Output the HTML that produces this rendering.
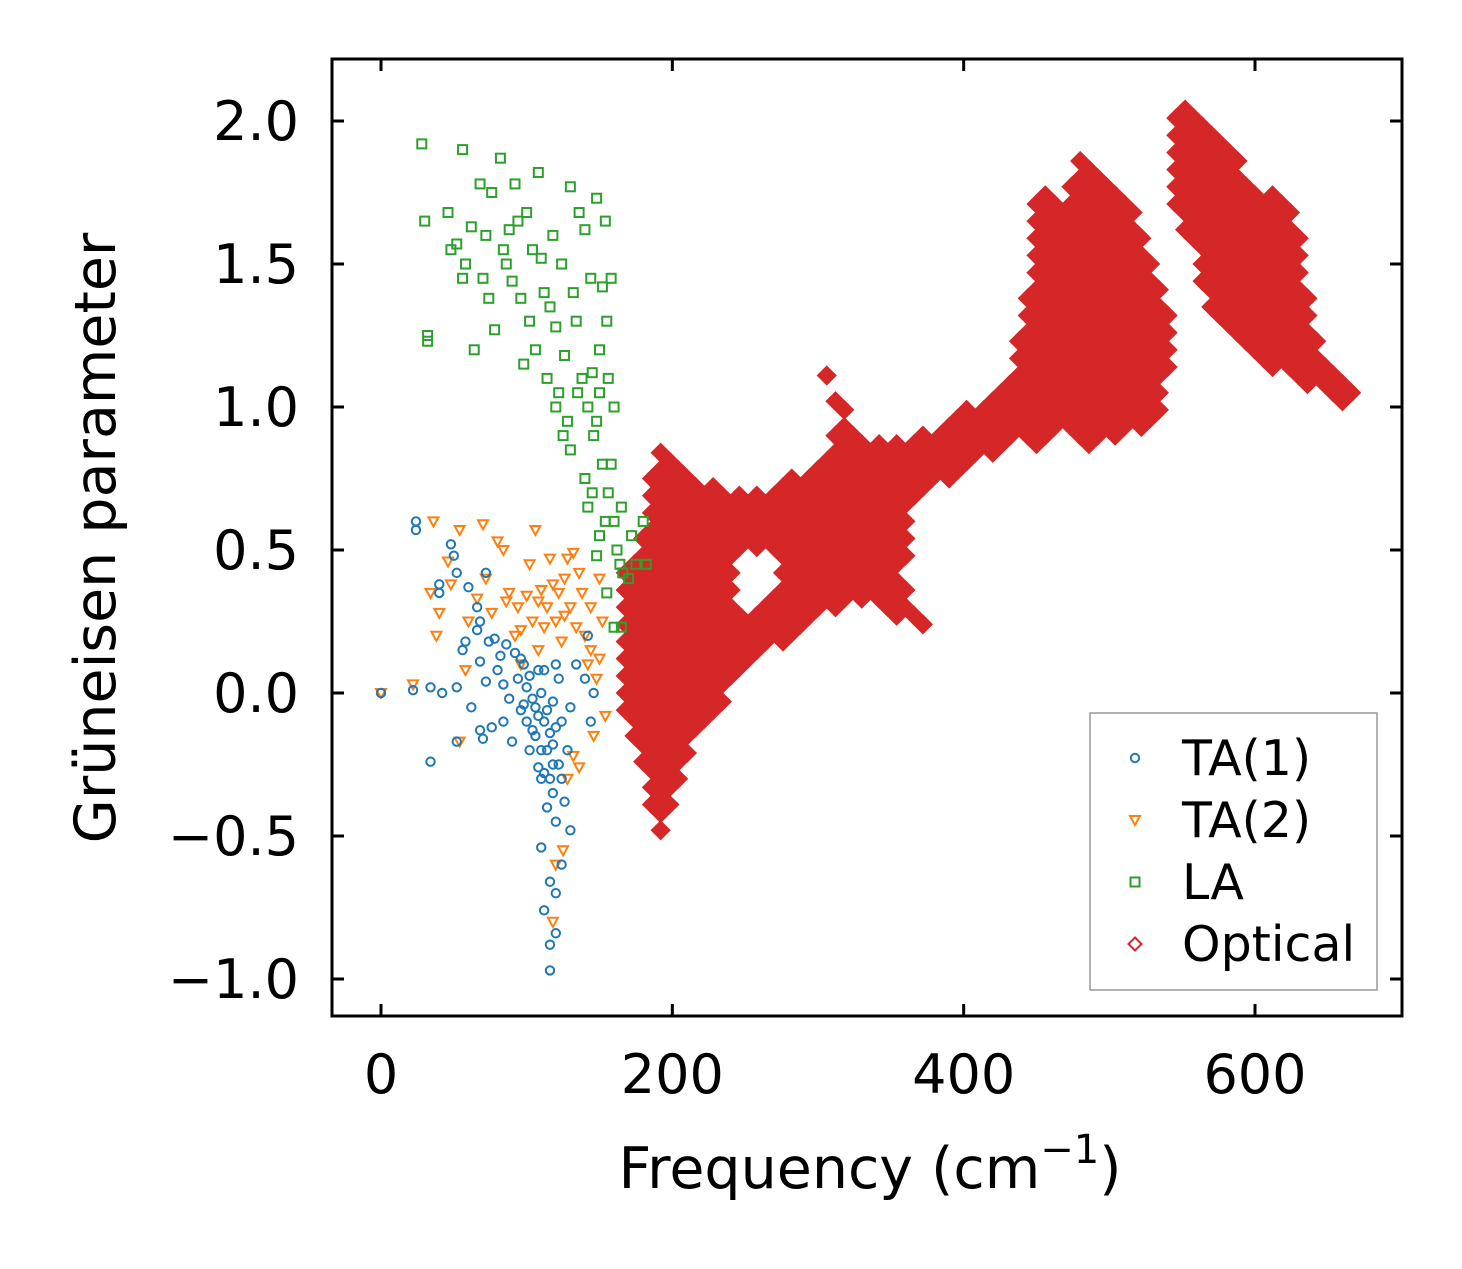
<!DOCTYPE html>
<html><head><meta charset="utf-8"><style>
html,body{margin:0;padding:0;background:#fff;}
svg text{font-family:"DejaVu Sans","Liberation Sans",sans-serif;fill:#000;}
</style></head><body>
<svg id="chart" width="1462" height="1264" viewBox="0 0 1462 1264" xmlns="http://www.w3.org/2000/svg">
<g id="marks"></g>
<rect x="332" y="59" width="1070" height="957" fill="none" stroke="#000" stroke-width="3"/>
<g id="axes"></g>
<text x="870" y="1188" font-size="57" text-anchor="middle">Frequency (cm<tspan font-size="40" dy="-25">−1</tspan><tspan dy="25">)</tspan></text>
<text transform="translate(115,538) rotate(-90)" font-size="57" text-anchor="middle">Grüneisen parameter</text>
<g>
<rect x="1090" y="713" width="287" height="277" fill="#fff" stroke="#999" stroke-width="1.5"/>
<g id="legend-entries"></g>
</g>
</svg>
<script>
const xTicks=[0,200,400,600];
const yTicks=[-1.0,-0.5,0.0,0.5,1.0,1.5,2.0];
const yTickLabels=["−1.0","−0.5","0.0","0.5","1.0","1.5","2.0"];
const ta1Data=[[0,0],[22,0.01],[24,0.6],[24,0.57],[34,0.02],[34,-0.24],[40,0.38],[40,0.35],[42,0],[48,0.52],[50,0.48],[52,0.42],[52,0.02],[52,-0.17],[56,0.15],[58,0.18],[60,0.37],[62,-0.05],[66,0.3],[66,0.22],[68,0.25],[68,0.11],[68,-0.13],[70,-0.16],[72,0.42],[72,0.04],[74,0.18],[76,-0.12],[78,0.19],[80,0.08],[82,0.13],[84,0.03],[84,-0.1],[86,0.17],[88,-0.02],[90,-0.17],[92,0.14],[94,0.05],[96,-0.06],[98,0.1],[100,-0.1],[100,0.02],[102,-0.2],[104,-0.13],[106,-0.05],[108,-0.26],[108,0.08],[110,-0.3],[110,-0.54],[112,-0.1],[112,-0.76],[114,-0.2],[114,-0.4],[116,-0.97],[116,-0.88],[116,-0.66],[118,-0.35],[118,-0.18],[118,-0.03],[120,-0.45],[120,-0.84],[120,-0.7],[122,-0.25],[122,0.05],[124,-0.6],[124,-0.1],[126,-0.38],[128,-0.2],[130,-0.48],[130,-0.05],[134,0.1],[140,0.05],[142,0.2],[144,-0.1],[146,0.0],[104,-0.02],[106,-0.15],[108,-0.08],[110,-0.2],[112,-0.28],[114,-0.06],[116,-0.14],[116,-0.3],[118,-0.25],[120,-0.12],[110,0.0],[102,0.06],[98,-0.04],[96,0.12],[112,0.08],[120,0.1],[124,-0.3]];
const ta2Data=[[0,0],[22,0.03],[34,0.35],[36,0.6],[38,0.2],[40,0.28],[46,0.46],[48,0.38],[54,-0.17],[54,0.57],[58,0.08],[60,0.25],[66,0.33],[70,0.59],[72,0.4],[76,0.28],[80,0.53],[84,0.5],[86,0.32],[88,0.35],[92,0.2],[94,0.3],[96,0.22],[100,0.34],[102,0.45],[104,0.25],[106,0.57],[108,0.32],[112,0.23],[114,0.3],[116,0.47],[118,0.38],[120,0.25],[122,0.35],[124,0.18],[126,0.4],[128,0.47],[130,0.3],[132,-0.22],[134,0.23],[136,-0.26],[138,0.35],[140,0.2],[142,0.1],[144,0.3],[146,-0.15],[148,0.05],[150,0.12],[152,0.25],[154,-0.08],[120,-0.6],[125,-0.55],[118,-0.8],[128,-0.3],[132,0.49],[108,0.15],[96,0.1],[110,0.36],[126,0.27],[136,0.42],[144,0.15],[150,0.4]];
const laData=[[28,1.92],[30,1.65],[32,1.25],[32,1.23],[46,1.68],[48,1.55],[52,1.57],[56,1.45],[56,1.9],[58,1.5],[62,1.63],[64,1.2],[68,1.78],[70,1.45],[72,1.6],[74,1.38],[76,1.75],[78,1.27],[82,1.87],[84,1.55],[86,1.5],[88,1.62],[90,1.44],[92,1.78],[94,1.65],[96,1.38],[98,1.15],[100,1.68],[102,1.3],[104,1.55],[106,1.2],[108,1.82],[110,1.52],[112,1.4],[114,1.1],[116,1.35],[118,1.6],[120,1.28],[122,1.05],[124,1.5],[126,1.18],[128,0.95],[130,1.77],[132,1.4],[134,1.3],[136,1.68],[138,1.1],[140,1.62],[142,1.0],[144,1.45],[146,0.9],[148,1.73],[150,1.2],[152,0.8],[154,1.65],[156,0.7],[158,1.45],[160,0.6],[162,0.5],[164,0.45],[166,0.42],[170,0.4],[175,0.45],[180,0.6],[182,0.45],[160,0.23],[165,0.23],[145,0.7],[140,0.75],[150,0.55],[155,0.35],[120,1.0],[125,0.9],[135,1.05],[145,1.12],[155,1.3],[160,1.0],[130,0.85],[148,0.95],[158,0.8],[165,0.65],[172,0.55],[142,0.65],[150,1.05],[154,0.6],[148,0.48],[156,1.1],[152,1.42]];
// optical: [frequency, gamma values in hundredths]
const opticalCols=[
[168,[-6,0,6,12,18,24,30,36,42]],
[174,[-15,-9,-3,3,9,15,21,27,33,39,45]],
[180,[-24,-18,-12,-6,0,6,12,18,24,30,36,42,48,54]],
[186,[-39,-33,-27,-21,-15,-9,-3,3,9,15,21,27,33,39,45,51,57,63,69,75]],
[192,[-48,-42,-36,-30,-24,-18,-12,-6,0,6,12,18,24,30,36,42,48,54,60,66,72,78,84]],
[198,[-39,-33,-27,-21,-15,-9,-3,3,9,15,21,27,33,39,45,51,57,63,69,75,81]],
[204,[-30,-24,-18,-12,-6,0,6,12,18,24,30,36,42,48,54,60,66,72,78]],
[210,[-21,-15,-9,-3,3,9,15,21,27,33,39,45,51,57,63,69,75]],
[216,[-12,-6,0,6,12,18,24,30,36,42,48,54,60,66,72]],
[222,[-9,-3,3,9,15,21,27,33,39,45,51,57,63,69]],
[228,[-6,0,6,12,18,24,30,36,42,48,54,60,66,72]],
[234,[-3,3,9,15,21,27,33,39,45,51,57,63,69]],
[240,[6,12,18,24,30,36,42,48,54,60,66]],
[246,[9,15,21,27,51,57,63,69]],
[252,[12,18,24,54,60,66]],
[258,[15,21,27,51,57,63,69]],
[264,[18,24,30,54,60,66]],
[270,[21,27,33,51,57,63,69]],
[276,[18,24,30,36,42,48,54,60,66,72]],
[282,[21,27,33,39,45,51,57,63,69,75]],
[288,[24,30,36,42,48,54,60,66,72]],
[294,[27,33,39,45,51,57,63,69,75]],
[300,[30,36,42,48,54,60,66,72,78]],
[306,[33,39,45,51,57,63,69,75,81,111]],
[312,[30,36,42,48,54,60,66,72,78,84,90,102]],
[318,[33,39,45,51,57,63,69,75,81,87,93,99]],
[324,[36,42,48,54,60,66,72,78,84,90]],
[330,[33,39,45,51,57,63,69,75,81,87]],
[336,[36,42,48,54,60,66,72,78,84]],
[342,[33,39,45,51,57,63,69,75,81,87]],
[348,[30,36,42,48,54,60,66,72,78,84]],
[354,[27,33,39,45,51,57,63,69,75,81,87]],
[360,[30,36,48,54,60,66,72,78,84]],
[366,[27,69,75,81,87]],
[372,[24,72,78,84,90]],
[378,[75,81,87]],
[384,[78,84,90]],
[390,[75,81,87,93]],
[396,[78,84,90,96]],
[402,[81,87,93,99]],
[408,[84,90,96]],
[414,[87,93,99]],
[420,[84,90,96,102]],
[426,[87,93,99,105]],
[432,[90,96,102,108]],
[438,[93,99,105,111,117,123]],
[444,[90,96,102,108,114,120,126,132,138]],
[450,[87,93,99,105,111,117,123,129,135,141,147,153,159,165,171]],
[456,[90,96,102,108,114,120,126,132,138,144,150,156,162,168,174]],
[462,[93,99,105,111,117,123,129,135,141,147,153,159,165,171]],
[468,[96,102,108,114,120,126,132,138,144,150,156,162,168]],
[474,[93,99,105,111,117,123,129,135,141,147,153,159,165,171,177]],
[480,[90,96,102,108,114,120,126,132,138,144,150,156,162,168,174,180,186]],
[486,[87,93,99,105,111,117,123,129,135,141,147,153,159,165,171,177,183]],
[492,[90,96,102,108,114,120,126,132,138,144,150,156,162,168,174,180]],
[498,[93,99,105,111,117,123,129,135,141,147,153,159,165,171,177]],
[504,[90,96,102,108,114,120,126,132,138,144,150,156,162,168,174]],
[510,[93,99,105,111,117,123,129,135,141,147,153,159,165,171]],
[516,[96,102,108,114,120,126,132,138,144,150,156,162,168]],
[522,[93,99,105,111,117,123,129,135,141,147,153,159]],
[528,[96,102,108,114,120,126,132,138,144,150]],
[534,[99,105,111,117,123,129,135,141]],
[540,[114,120,126,132]],
[546,[171,177,183,189,195,201]],
[552,[162,168,174,180,186,192,198,204]],
[558,[159,165,171,177,183,189,195,201]],
[564,[144,150,156,162,168,174,180,186,192,198]],
[570,[135,141,147,153,159,165,171,177,183,189,195]],
[576,[132,138,144,150,156,162,168,174,180,186,192]],
[582,[129,135,141,147,153,159,165,171,177,183,189]],
[588,[126,132,138,144,150,156,162,168,174,180,186]],
[594,[123,129,135,141,147,153,159,165,171,177]],
[600,[120,126,132,138,144,150,156,162,168,174]],
[606,[117,123,129,135,141,147,153,159,165,171]],
[612,[114,120,126,132,138,144,150,156,162,168,174]],
[618,[117,123,129,135,141,147,153,159,165,171]],
[624,[114,120,126,132,138,144,150,156,162,168]],
[630,[111,117,123,129,135,141,147,153,159]],
[636,[108,114,120,126,132,138]],
[642,[111,117,123]],
[648,[108,114]],
[654,[105,111]],
[660,[102,108]],
[666,[105]]
];
const legendLabels=["TA(1)","TA(2)","LA","Optical"];
const colors=["#1f77b4","#ff7f0e","#2ca02c","#d62728"];

const NS="http://www.w3.org/2000/svg";
function xs(v){return 381+v*(1255-381)/600;}
function ys(v){return 693-v*286;}
function mk(tag,attrs){const e=document.createElementNS(NS,tag);for(const k in attrs)e.setAttribute(k,attrs[k]);return e;}
function marker(type,cx,cy,color,big){
  let e;
  if(type===0){e=mk('circle',{cx:cx,cy:cy,r:4.2});}
  else if(type===1){e=mk('polygon',{points:`${cx-5},${cy-4} ${cx+5},${cy-4} ${cx},${cy+5}`});}
  else if(type===2){e=mk('rect',{x:cx-4.5,y:cy-4.5,width:9,height:9});}
  else {const s=big?8:6.5;e=mk('polygon',{points:`${cx},${cy-s} ${cx+s},${cy} ${cx},${cy+s} ${cx-s},${cy}`});}
  e.setAttribute('fill',big?color:'none');e.setAttribute('stroke',color);e.setAttribute('stroke-width',big?'3':'2');
  return e;
}
const marks=document.getElementById('marks');
const opticalData=[];
opticalCols.forEach(c=>c[1].forEach(g=>opticalData.push([c[0],g/100])));
const series=[opticalData,laData,ta2Data,ta1Data];
const seriesType=[3,2,1,0];
const seriesNames=['optical-point','la-point','ta2-point','ta1-point'];
series.forEach((arr,si)=>{
  const t=seriesType[si];
  arr.forEach(p=>{
    const m=marker(t,xs(p[0]),ys(p[1]),colors[t],t===3);
    
    
    marks.appendChild(m);
  });
});
const axes=document.getElementById('axes');
xTicks.forEach(v=>{
  const x=xs(v);
  const t1=mk('line',{x1:x,x2:x,y1:1016,y2:1004,stroke:'#000','stroke-width':3});
  
  
  axes.appendChild(t1);
  const t2=mk('line',{x1:x,x2:x,y1:59,y2:71,stroke:'#000','stroke-width':3});
  
  
  axes.appendChild(t2);
  const l=mk('text',{x:x,y:1093,'font-size':54,'text-anchor':'middle'});
  l.textContent=String(v);
  
  
  axes.appendChild(l);
});
yTicks.forEach((v,i)=>{
  const y=ys(v);
  const t1=mk('line',{x1:332,x2:344,y1:y,y2:y,stroke:'#000','stroke-width':3});
  
  
  axes.appendChild(t1);
  const t2=mk('line',{x1:1390,x2:1402,y1:y,y2:y,stroke:'#000','stroke-width':3});
  
  
  axes.appendChild(t2);
  const l=mk('text',{x:299,y:y+19,'font-size':54,'text-anchor':'end'});
  l.textContent=yTickLabels[i];
  
  
  axes.appendChild(l);
});
const le=document.getElementById('legend-entries');
legendLabels.forEach((lab,i)=>{
  const y=758+i*62;
  const m=marker(i,1135,y,colors[i],false);
  
  
  le.appendChild(m);
  const t=mk('text',{x:1182,y:y+17,'font-size':49});
  t.textContent=lab;
  
  
  le.appendChild(t);
});
</script>
</body></html>
